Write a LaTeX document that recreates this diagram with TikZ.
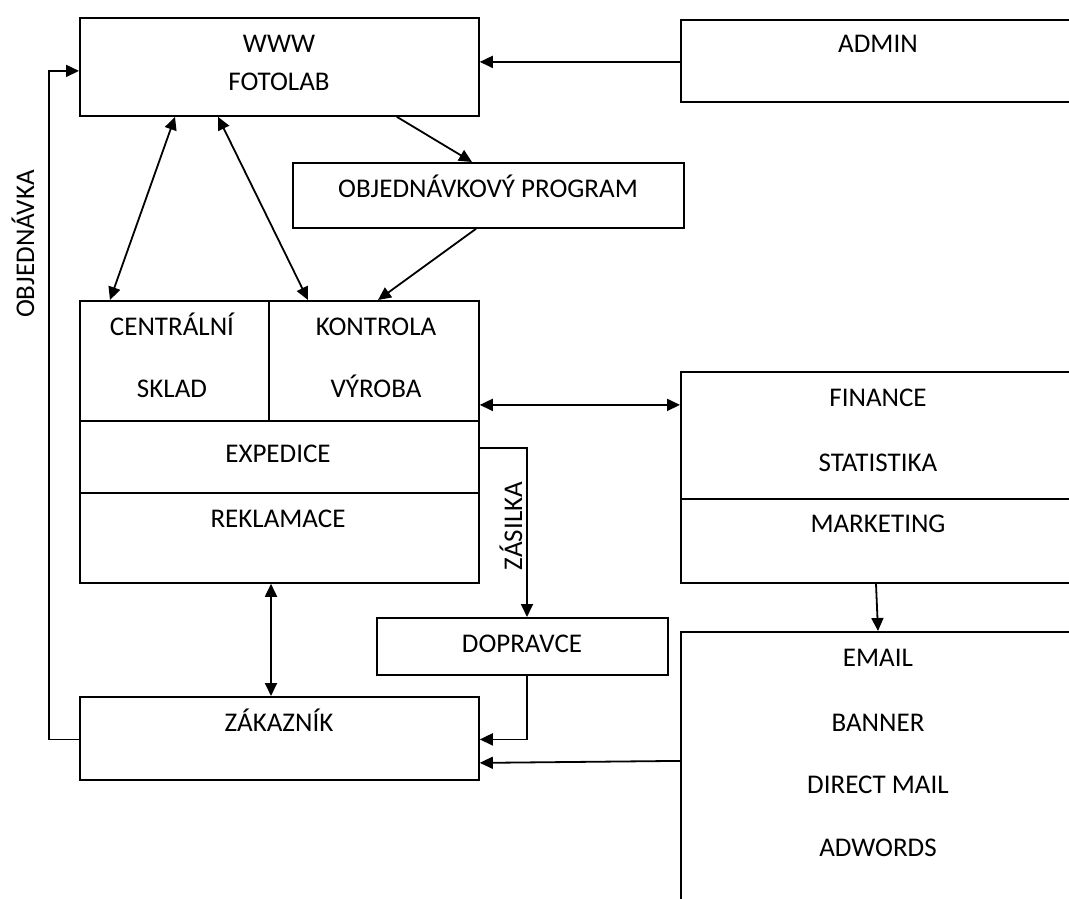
\documentclass[tikz,border=0pt]{standalone}
\usepackage{fontspec}
\setmainfont{Carlito}
\usetikzlibrary{arrows.meta}

\tikzset{
  box/.style={draw, line width=1.8pt, inner sep=0pt, anchor=north west},
  txt/.style={anchor=base, inner sep=0pt, font=\fontsize{27}{32}\selectfont},
  link/.style={line width=1.8pt},
  >={Triangle[length=13pt, width=12pt]}
}

\begin{document}
\begin{tikzpicture}[x=1pt, y=-1pt]
  \useasboundingbox (0,0) rectangle (1069,899);
  \clip (0,0) rectangle (1069,899);

  % Draw boxes
  \node[box, minimum width=399, minimum height=98] (fotolab) at (79,17) {};
  \node[box, minimum width=396, minimum height=82] (admin) at (680,19) {};
  \node[box, minimum width=391, minimum height=65] (program) at (292,162) {};
  \node[box, minimum width=189, minimum height=120] (sklad) at (79,300) {};
  \node[box, minimum width=210, minimum height=120] (kontrola) at (268,300) {};
  \node[box, minimum width=399, minimum height=72] (expedice) at (79,420) {};
  \node[box, minimum width=399, minimum height=90] (reklamace) at (79,492) {};
  \node[box, minimum width=396, minimum height=127] (finance) at (680,371) {};
  \node[box, minimum width=396, minimum height=84] (marketing) at (680,498) {};
  \node[box, minimum width=291, minimum height=57] (dopravce) at (376,617) {};
  \node[box, minimum width=399, minimum height=83] (zakaznik) at (79,696) {};
  \node[box, minimum width=396, minimum height=300] (email) at (680,631) {};

  % Labels in the boxes
  \node[txt] (t-www) at (279,53) {WWW};
  \node[txt] (t-fotolab) at (279,91) {FOTOLAB};
  \node[txt] (t-admin) at (878,53) {ADMIN};
  \node[txt] (t-program) at (488,197) {OBJEDNÁVKOVÝ PROGRAM};
  \node[txt] (t-centralni) at (172,335) {CENTRÁLNÍ};
  \node[txt] (t-sklad) at (172,397) {SKLAD};
  \node[txt] (t-kontrola) at (376,335) {KONTROLA};
  \node[txt] (t-vyroba) at (376,397) {VÝROBA};
  \node[txt] (t-expedice) at (278,462) {EXPEDICE};
  \node[txt] (t-reklamace) at (278,527) {REKLAMACE};
  \node[txt] (t-finance) at (878,406) {FINANCE};
  \node[txt] (t-statistika) at (878,471) {STATISTIKA};
  \node[txt] (t-marketing) at (878,532) {MARKETING};
  \node[txt] (t-dopravce) at (522,652) {DOPRAVCE};
  \node[txt] (t-zakaznik) at (279,731) {ZÁKAZNÍK};
  \node[txt] (t-email) at (878,666) {EMAIL};
  \node[txt] (t-banner) at (878,731) {BANNER};
  \node[txt] (t-direct) at (878,793) {DIRECT MAIL};
  \node[txt] (t-adwords) at (878,856) {ADWORDS};

  % Connectors
  \draw[link, ->] ([yshift=-1pt]admin.west) -- ([yshift=-1pt]admin.west -| fotolab.east);
  \draw[link, ->] ([xshift=-83pt]fotolab.south east) -- ([xshift=180pt]program.north west);
  \draw[link, ->] ([xshift=184pt]program.south west) -- ([xshift=110pt]kontrola.north west);
  \draw[link, <->] ([xshift=96pt]fotolab.south west) -- ([xshift=31pt]sklad.north west);
  \draw[link, <->] ([xshift=139pt]fotolab.south west) -- ([xshift=40pt]kontrola.north west);
  \draw[link, <->] ([yshift=-44pt]kontrola.east) -- ([yshift=-44pt]kontrola.east -| finance.west);
  \draw[link, ->] ([yshift=9pt]expedice.east) -| ([xshift=151pt]dopravce.north west);
  \draw[link, ->] ([xshift=196pt]marketing.south west) -- ([xshift=198pt]email.north west);
  \draw[link, <->] ([xshift=192pt]reklamace.south west) -- ([xshift=192pt]zakaznik.north west);
  \draw[link, ->] ([xshift=151pt]dopravce.south west) |- ([yshift=-1pt]zakaznik.east);
  \draw[link, ->] ([yshift=21pt]email.west) -- ([yshift=19pt]zakaznik.east |- email.west);
  \draw[link, ->] ([yshift=-1pt]zakaznik.west) -- ++(-30,0) |- ([yshift=-4pt]fotolab.west);

  % Connector labels
  \node[txt, anchor=center, rotate=90] (t-objednavka) at (23,244) {OBJEDNÁVKA};
  \node[txt, anchor=center, rotate=90] (t-zasilka) at (511,526) {ZÁSILKA};
\end{tikzpicture}
\end{document}
